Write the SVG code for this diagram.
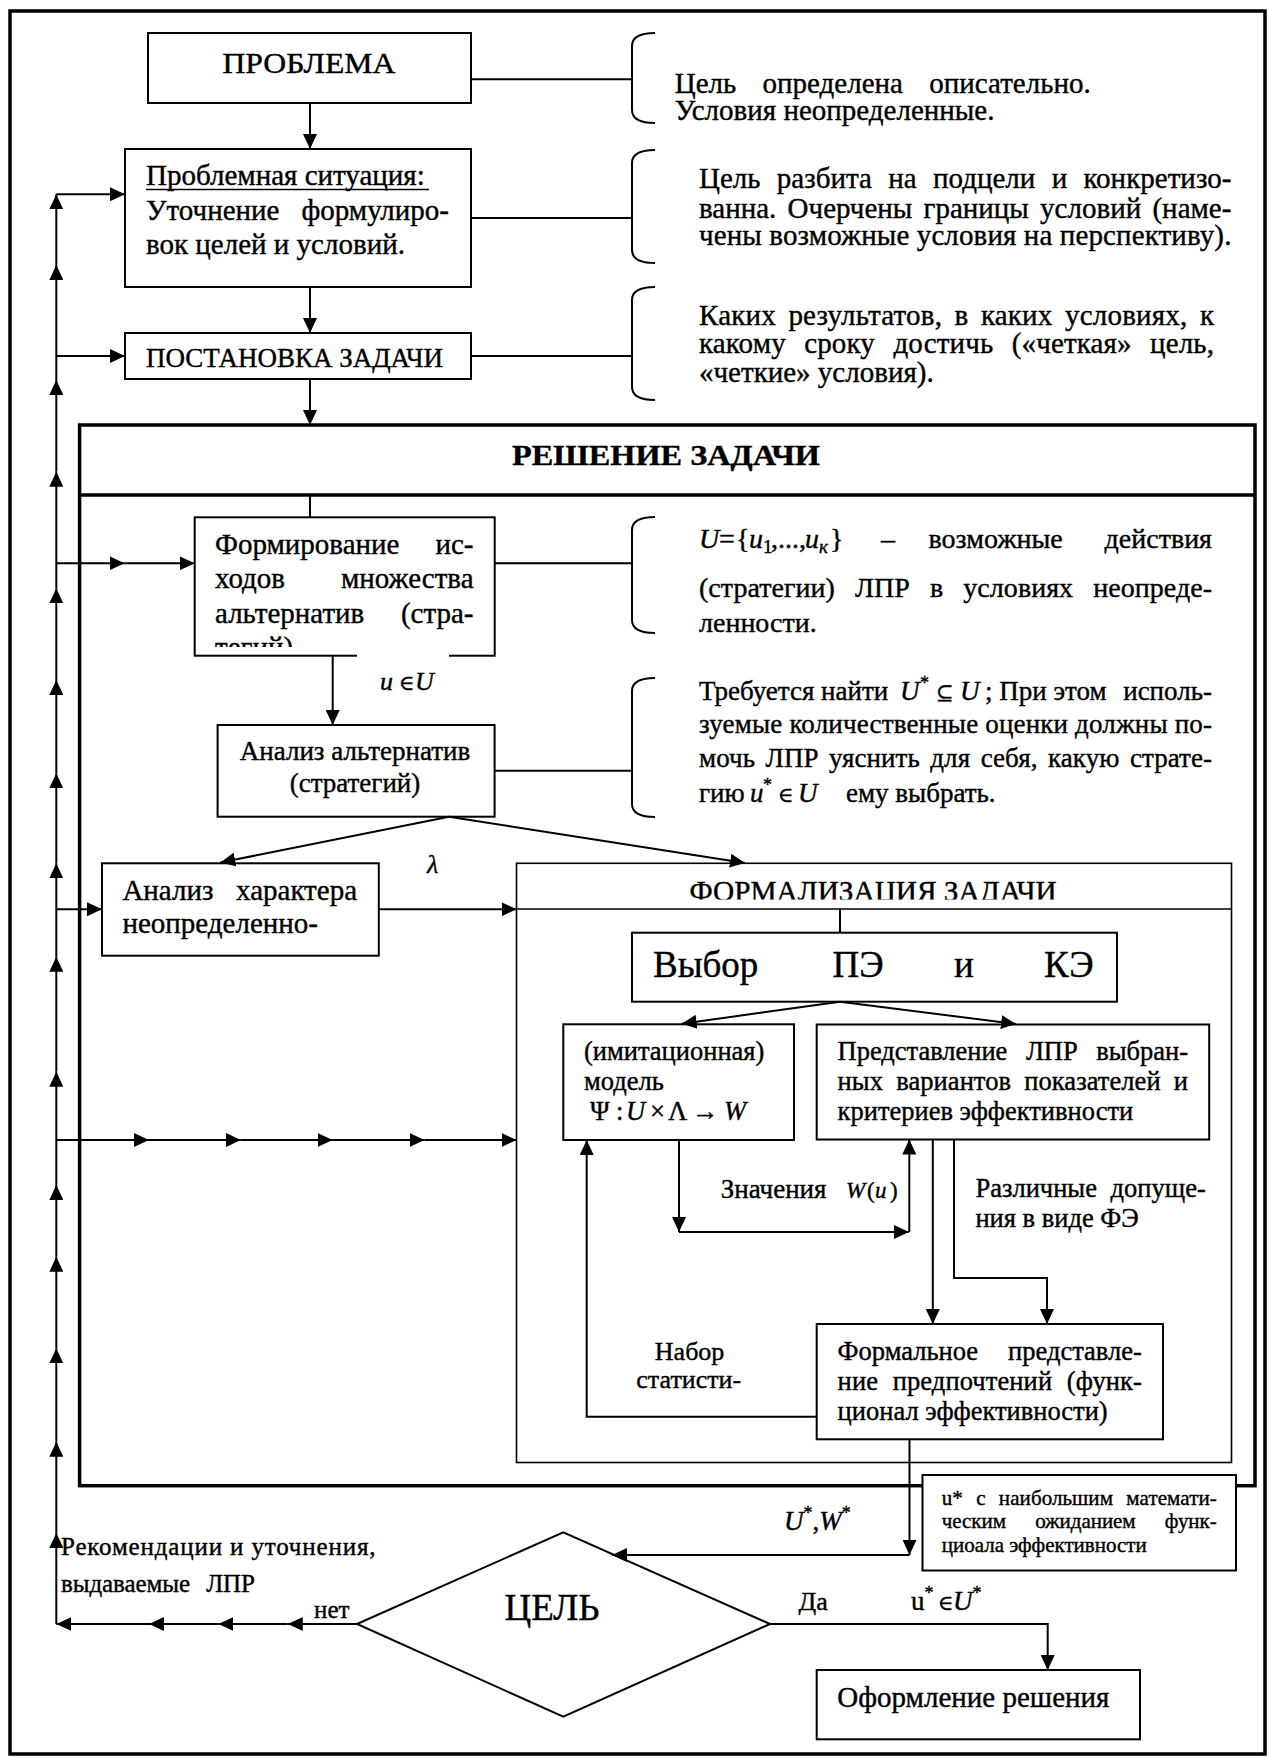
<svg xmlns="http://www.w3.org/2000/svg" width="1269" height="1758" viewBox="0 0 1269 1758">
<defs>
<style>
text{font-family:"Liberation Serif","Times New Roman","DejaVu Serif",serif;fill:#000;stroke:#000;stroke-width:0.4px}
.b{fill:#fff;stroke:#000;stroke-width:2}
.c{fill:none;stroke:#000;stroke-width:2}
.a{fill:none;stroke:#000;stroke-width:2;marker-end:url(#ah)}
.br{fill:none;stroke:#000;stroke-width:2}
.s29{font-size:29px}
.s28{font-size:28px}
.s27{font-size:27px}
.s265{font-size:26.5px}
.s26{font-size:26px}
.s25{font-size:25px}
.s21{font-size:21px}
.s37{font-size:37px}
.i{font-style:italic}
.e{text-anchor:end}
.m{text-anchor:middle}
</style>
<marker id="ah" markerUnits="userSpaceOnUse" markerWidth="16" markerHeight="14" refX="15" refY="7" orient="auto"><path d="M0,0 L15,7 L0,14 z" fill="#000"/></marker>
<clipPath id="clipTeg"><rect x="190" y="600" width="300" height="47"/></clipPath>
<clipPath id="clipForm"><rect x="520" y="870" width="700" height="29.5"/></clipPath>
</defs>
<rect x="0" y="0" width="1269" height="1758" fill="#fff"/>
<rect id="frame" x="10" y="11" width="1255" height="1743" fill="none" stroke="#000" stroke-width="3.5"/>

<g id="reshenie-zadachi">
<rect x="79.6" y="425" width="1175.4" height="1060.7" fill="none" stroke="#000" stroke-width="3.5"/>
<line x1="79.6" y1="495" x2="1255" y2="495" stroke="#000" stroke-width="3.5"/>
<text x="512" y="465" font-size="30" font-weight="bold" textLength="308" lengthAdjust="spacingAndGlyphs">РЕШЕНИЕ ЗАДАЧИ</text>
</g>

<g id="formalizaciya">
<rect x="516.5" y="863.3" width="715" height="599.2" fill="none" stroke="#000" stroke-width="1.6"/>
<line x1="516.5" y1="909" x2="1231.5" y2="909" stroke="#000" stroke-width="1.6"/>
<g clip-path="url(#clipForm)"><text x="689.6" y="901" class="s29" textLength="367" lengthAdjust="spacingAndGlyphs">ФОРМАЛИЗАЦИЯ ЗАДАЧИ</text></g>
</g>

<g id="problema">
<rect class="b" x="148" y="33" width="323" height="70"/>
<text x="222.4" y="72.7" font-size="30" textLength="173" lengthAdjust="spacingAndGlyphs">ПРОБЛЕМА</text>
</g>

<g id="problemnaya-situaciya">
<rect class="b" x="125" y="149" width="346" height="138"/>
<text x="146" y="185" class="s29">Проблемная ситуация:</text>
<line x1="146" y1="189.5" x2="429" y2="189.5" stroke="#000" stroke-width="1.5"/>
<text x="146" y="219.5" class="s29">Уточнение</text>
<text x="449" y="219.5" class="s29 e">формулиро-</text>
<text x="146" y="254" class="s29">вок целей и условий.</text>
</g>

<g id="postanovka">
<rect class="b" x="125" y="333" width="346" height="46"/>
<text x="146" y="366.7" class="s28" textLength="297" lengthAdjust="spacingAndGlyphs">ПОСТАНОВКА ЗАДАЧИ</text>
</g>

<g id="note-problema">
<path class="br" d="M655,33 C640,33 632,37 632,46 L632,110 C632,119 640,123 655,123"/>
<text x="674.7" y="93" class="s29" textLength="416" lengthAdjust="spacing" style="word-spacing:19px">Цель определена описательно.</text>
<text x="674.7" y="120" class="s29">Условия неопределенные.</text>
</g>

<g id="note-situaciya">
<path class="br" d="M655,150 C640,150 632,154 632,163 L632,250 C632,259 640,263 655,263"/>
<text x="699" y="188" class="s29" textLength="532.4" lengthAdjust="spacing" style="word-spacing:9px">Цель разбита на подцели и конкретизо-</text>
<text x="699" y="217.7" class="s29" textLength="532.4" lengthAdjust="spacing" style="word-spacing:4px">ванна. Очерчены границы условий (наме-</text>
<text x="699" y="245" class="s29" textLength="532.4" lengthAdjust="spacing">чены возможные условия на перспективу).</text>
</g>

<g id="note-postanovka">
<path class="br" d="M655,287 C640,287 632,291 632,300 L632,387 C632,396 640,400 655,400"/>
<text x="699" y="325" class="s29" textLength="515" lengthAdjust="spacing" style="word-spacing:5px">Каких результатов, в каких условиях, к</text>
<text x="699" y="353" class="s29" textLength="515" lengthAdjust="spacing" style="word-spacing:11px">какому сроку достичь («четкая» цель,</text>
<text x="699" y="382" class="s29">«четкие» условия).</text>
</g>

<g id="formirovanie">
<rect class="b" x="194.7" y="517.3" width="300" height="138.4"/>
<text x="215" y="554" class="s29">Формирование</text>
<text x="473.5" y="554" class="s29 e">ис-</text>
<text x="215" y="588" class="s29">ходов</text>
<text x="473.5" y="588" class="s29 e">множества</text>
<text x="215" y="622.7" class="s29">альтернатив</text>
<text x="473.5" y="622.7" class="s29 e">(стра-</text>
<g clip-path="url(#clipTeg)"><text x="215" y="657" class="s29">тегий)</text></g>
<rect x="357" y="647" width="92" height="12" fill="#fff"/>
</g>

<g id="note-formirovanie">
<path class="br" d="M655,517 C640,517 632,521 632,530 L632,620 C632,629 640,633 655,633"/>
<text y="548.3" class="s28"><tspan x="699" class="i">U</tspan><tspan x="719">=</tspan><tspan x="736">{</tspan><tspan x="749" class="i">u</tspan><tspan x="763" dy="5" font-size="19">1</tspan><tspan x="771" dy="-5">,...,</tspan><tspan x="805" class="i">u</tspan><tspan x="819" dy="5" font-size="19" class="i">к</tspan><tspan x="830" dy="-5">}</tspan><tspan x="881">–</tspan><tspan x="928.5">возможные</tspan></text>
<text x="1212" y="548.3" class="s28 e">действия</text>
<text x="699" y="596.7" class="s28" textLength="513" lengthAdjust="spacing" style="word-spacing:13px">(стратегии) ЛПР в условиях неопреде-</text>
<text x="699" y="631.7" class="s28">ленности.</text>
</g>

<g id="analiz-alternativ">
<rect class="b" x="217.6" y="725" width="277" height="91.7"/>
<text x="355" y="760" class="s27 m">Анализ альтернатив</text>
<text x="355" y="791.7" class="s27 m">(стратегий)</text>
</g>

<g id="note-analiz">
<path class="br" d="M655,678 C640,678 632,682 632,691 L632,804 C632,813 640,817 655,817"/>
<text y="700" class="s27"><tspan x="699">Требуется найти</tspan><tspan x="900" class="i">U</tspan><tspan x="920" dy="-11" font-size="18">*</tspan><tspan x="936" dy="11" font-size="21">⊆</tspan><tspan x="960" class="i">U</tspan><tspan x="985">; При этом</tspan></text>
<text x="1212" y="700" class="s27 e">исполь-</text>
<text x="699" y="733.3" class="s27" textLength="513" lengthAdjust="spacing">зуемые количественные оценки должны по-</text>
<text x="699" y="766.7" class="s27" textLength="513" lengthAdjust="spacing" style="word-spacing:3.7px">мочь ЛПР уяснить для себя, какую страте-</text>
<text y="801.7" class="s27"><tspan x="699">гию</tspan><tspan x="750" class="i">u</tspan><tspan x="763" dy="-11" font-size="18">*</tspan><tspan x="778" dy="11" font-size="21">∈</tspan><tspan x="798" class="i">U</tspan><tspan x="846">ему выбрать.</tspan></text>
</g>

<g id="analiz-haraktera">
<rect class="b" x="102" y="863.3" width="276.8" height="92.4"/>
<text x="122.4" y="900" class="s29">Анализ</text>
<text x="357" y="900" class="s29 e">характера</text>
<text x="122.4" y="933.3" class="s29">неопределенно-</text>
</g>

<g id="vybor">
<rect class="b" x="632" y="932.7" width="485" height="69"/>
<text y="976.7" class="s37"><tspan x="653">Выбор</tspan><tspan x="832.5">ПЭ</tspan><tspan x="954">и</tspan><tspan x="1044">КЭ</tspan></text>
</g>

<g id="model">
<rect class="b" x="563.3" y="1024.3" width="230.7" height="115.7"/>
<text x="584" y="1060" class="s265">(имитационная)</text>
<text x="584" y="1090" class="s265">модель</text>
<text y="1120" class="s265"><tspan x="590">Ψ</tspan><tspan x="616">:</tspan><tspan x="626" class="i">U</tspan><tspan x="650">×</tspan><tspan x="668">Λ</tspan><tspan x="692">→</tspan><tspan x="724" class="i">W</tspan></text>
</g>

<g id="predstavlenie">
<rect class="b" x="816.7" y="1024.5" width="392.5" height="115"/>
<text x="837.6" y="1060" class="s265" textLength="350.4" lengthAdjust="spacing" style="word-spacing:12px">Представление ЛПР выбран-</text>
<text x="837.6" y="1090" class="s265" textLength="350.4" lengthAdjust="spacing" style="word-spacing:6.5px">ных вариантов показателей и</text>
<text x="837.6" y="1120" class="s265">критериев эффективности</text>
</g>

<g id="znacheniya-label">
<text x="720.7" y="1198.3" class="s27">Значения</text>
<text y="1198.3" font-size="23"><tspan x="846" class="i">W</tspan><tspan x="867">(</tspan><tspan x="875" class="i">u</tspan><tspan x="890">)</tspan></text>
</g>

<g id="razlichnye-label">
<text x="975.4" y="1196.7" class="s265" textLength="230.4" lengthAdjust="spacing" style="word-spacing:7px">Различные допуще-</text>
<text x="975.4" y="1226.7" class="s265">ния в виде ФЭ</text>
</g>

<g id="nabor-label">
<text x="689.6" y="1360" class="s26 m">Набор</text>
<text x="636.3" y="1388.3" class="s26">статисти-</text>
</g>

<g id="formalnoe">
<rect class="b" x="816.7" y="1324" width="346.3" height="115.3"/>
<text x="837.6" y="1360" class="s265">Формальное</text>
<text x="1141.8" y="1360" class="s265 e">представле-</text>
<text x="837.6" y="1390" class="s265" textLength="304.2" lengthAdjust="spacing" style="word-spacing:8px">ние предпочтений (функ-</text>
<text x="837.6" y="1420" class="s265">ционал эффективности)</text>
</g>

<g id="cel">
<polygon class="b" points="357,1624 563.3,1532.3 770,1624 563.3,1716.7"/>
<text x="552" y="1620" class="s37 m">ЦЕЛЬ</text>
</g>

<g id="oformlenie">
<rect class="b" x="816.7" y="1670" width="323.3" height="69.3"/>
<text x="837.3" y="1706.7" class="s29">Оформление решения</text>
</g>

<g id="connectors">
<path class="a" d="M310,103 V149"/>
<path class="a" d="M310,287 V333"/>
<path class="a" d="M310,379 V425"/>
<path class="c" d="M310,495 V517.3"/>
<path class="a" d="M332.7,655.7 V725"/>
<path class="a" d="M449,816.7 L220.4,862.5"/>
<path class="a" d="M449,816.7 L745,863"/>
<path class="a" d="M378.8,909.3 H516.5"/>
<path class="c" d="M840,909 V932.7"/>
<path class="a" d="M840,1001.7 L681.7,1023.8"/>
<path class="a" d="M840,1001.7 L1016,1024"/>
<path class="a" d="M679,1140 V1232"/>
<path class="a" d="M679,1232 H909"/>
<path class="a" d="M909.3,1232 V1139.5"/>
<path class="a" d="M932.8,1139.5 V1324"/>
<path class="a" d="M954,1139.5 V1278 H1047 V1324"/>
<path class="a" d="M816.7,1416.7 H586.7 V1140"/>
<path class="a" d="M909.5,1439.3 V1555"/>
<path class="a" d="M909.5,1555 H612"/>
<path class="a" d="M770,1624 H1047.7 V1670"/>
<path class="a" d="M357,1624 H287.8"/>
<path class="a" d="M287.8,1624 H218.4"/>
<path class="a" d="M218.4,1624 H149"/>
<path class="a" d="M149,1624 H56.3"/>
<path class="a" d="M56.3,1624 V1533"/>
<path class="a" d="M56.3,1533 V1441.7"/>
<path class="a" d="M56.3,1441.7 V1348.3"/>
<path class="a" d="M56.3,1348.3 V1256.7"/>
<path class="a" d="M56.3,1256.7 V1185"/>
<path class="a" d="M56.3,1185 V1071.7"/>
<path class="a" d="M56.3,1071.7 V956.7"/>
<path class="a" d="M56.3,956.7 V863.3"/>
<path class="a" d="M56.3,863.3 V773.3"/>
<path class="a" d="M56.3,773.3 V680"/>
<path class="a" d="M56.3,680 V588.3"/>
<path class="a" d="M56.3,588.3 V471.7"/>
<path class="a" d="M56.3,471.7 V380"/>
<path class="a" d="M56.3,380 V265"/>
<path class="a" d="M56.3,265 V194.3"/>
<path class="a" d="M56.3,194.3 H125"/>
<path class="a" d="M56.3,356 H125"/>
<path class="a" d="M56.3,563.3 H124.5"/>
<path class="a" d="M124.5,563.3 H194.7"/>
<path class="a" d="M56.3,909.3 H102"/>
<path class="a" d="M56.3,1140 H149"/>
<path class="a" d="M149,1140 H240.8"/>
<path class="a" d="M240.8,1140 H332.7"/>
<path class="a" d="M332.7,1140 H424.5"/>
<path class="a" d="M424.5,1140 H516.5"/>
<path class="c" d="M471,79.3 H632"/>
<path class="c" d="M471,218 H632"/>
<path class="c" d="M471,356 H632"/>
<path class="c" d="M494.7,563.3 H632"/>
<path class="c" d="M494.7,770.7 H632"/>
</g>

<g id="labels">
<text y="690" font-size="26"><tspan x="380" class="i">u</tspan><tspan x="399" font-size="21">∈</tspan><tspan x="415" class="i">U</tspan></text>
<text x="427" y="873" font-size="26" class="i">λ</text>
<text y="1530" class="s27"><tspan x="784" class="i">U</tspan><tspan dy="-11" font-size="18">*</tspan><tspan dy="11">,</tspan><tspan class="i">W</tspan><tspan dy="-11" font-size="18">*</tspan></text>
<text x="798.4" y="1610" class="s26">Да</text>
<text y="1610" class="s27"><tspan x="911">u</tspan><tspan dy="-11" font-size="18">*</tspan><tspan x="938" dy="11" font-size="21">∈</tspan><tspan x="953" class="i">U</tspan><tspan dy="-11" font-size="18">*</tspan></text>
<text x="314" y="1618" class="s25">нет</text>
<text x="61" y="1555" class="s25" textLength="314.5" lengthAdjust="spacing">Рекомендации  и  уточнения,</text>
<text x="61" y="1591.7" class="s25" textLength="194" lengthAdjust="spacing" style="word-spacing:10px">выдаваемые ЛПР</text>
</g>

<g id="u-star-note">
<rect class="b" x="922.5" y="1475" width="313.5" height="95.5"/>
<text x="941.7" y="1505" class="s21" textLength="275" lengthAdjust="spacing" style="word-spacing:8px">u* с наибольшим математи-</text>
<text x="941.7" y="1528.3" class="s21" textLength="275" lengthAdjust="spacing" style="word-spacing:24px">ческим ожиданием функ-</text>
<text x="941.7" y="1551.7" class="s21">циоала эффективности</text>
</g>
</svg>
